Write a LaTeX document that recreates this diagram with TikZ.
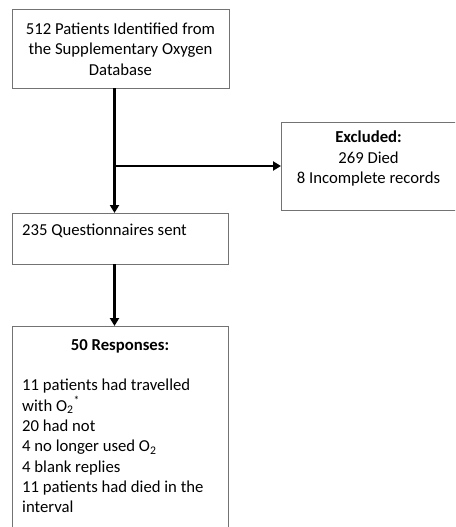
\documentclass[tikz,border=0pt]{standalone}
\usepackage{fontspec}
\setmainfont{Carlito}
\usetikzlibrary{arrows.meta}
\begin{document}
\begin{tikzpicture}[x=1pt,y=-1pt,
  boxst/.style={draw=black!55, line width=1pt, fill=white, inner sep=0pt, outer sep=0pt},
  conn/.style={line width=2.3pt, -{Triangle[length=8pt,width=9pt]}},
  txt/.style={font=\fontsize{16.7}{20.3}\selectfont, inner sep=0pt}]
\useasboundingbox (0,0) rectangle (455,527);
\clip (0,0) rectangle (455,527);
% boxes
\node[boxst, txt, minimum width=217pt, minimum height=78pt, align=center] (src) at (120.5,49)
  {512 Patients Identified from\\the Supplementary Oxygen\\Database};
\node[boxst, minimum width=175pt, minimum height=88pt] (exc) at (368.5,166) {};
\node[boxst, minimum width=216pt, minimum height=51pt] (qs) at (120,238.5) {};
\node[boxst, minimum width=216pt, minimum height=230pt] (resp) at (120,441) {};
% texts
\node[txt, align=center, anchor=north] (exct) at (368.5,131)
  {\textbf{Excluded:}\\269 Died\\8 Incomplete records};
\node[txt, anchor=base west] (qst) at (22,235) {235 Questionnaires sent};
\node[txt, anchor=base] (respt) at (120,350) {\textbf{50 Responses:}};
\node[txt, align=left, anchor=north west] (respl) at (22,379)
  {11 patients had travelled\\
   with O\textsubscript{2}\textsuperscript{*}\\
   20 had not\\
   4 no longer used O\textsubscript{2}\\
   4 blank replies\\
   11 patients had died in the\\
   interval};
% connectors
\coordinate (trunk) at (114.5,0);
\draw[conn] (src.south -| trunk) -- (qs.north -| trunk);
\draw[conn] (exc.west -| trunk) -- (exc.west);
\draw[conn] (qs.south -| trunk) -- (resp.north -| trunk);
\end{tikzpicture}
\end{document}
